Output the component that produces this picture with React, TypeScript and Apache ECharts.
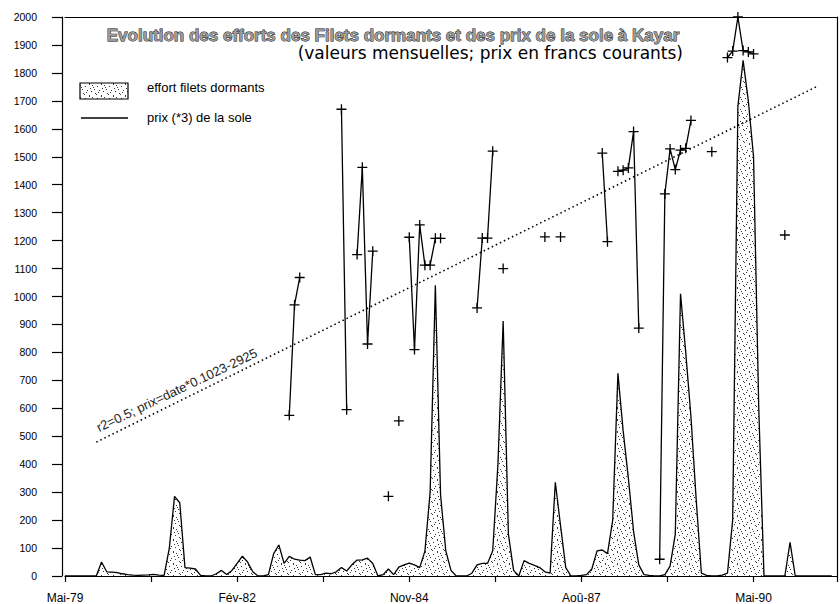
import React, { useEffect, useRef } from 'react';
import * as echarts from 'echarts';

// x axis: month index from Mai-79 (0) ; tick every 16.5 months, label every 33
const xTickLabels = ['Mai-79', '', 'Fév-82', '', 'Nov-84', '', 'Aoû-87', '', 'Mai-90'];
const monthCount = 148;

// effort filets dormants (monthly values, m0 = Mai-79)
const effort = [
  0, 0, 0, 0, 0, 0, 0, 50, 15, 14, 12, 8,
  5, 3, 2, 3, 4, 6, 3, 2, 100, 285, 262, 30,
  28, 25, 2, 0, 0, 8, 20, 5, 20, 45, 71, 50,
  15, 0, 0, 5, 80, 111, 45, 70, 60, 57, 55, 68,
  5, 5, 10, 8, 15, 30, 18, 40, 57, 58, 64, 45,
  0, 5, 25, 5, 32, 40, 46, 40, 30, 89, 300, 1040,
  290, 90, 20, 0, 0, 0, 10, 40, 45, 45, 90, 400,
  912, 150, 20, 0, 55, 45, 38, 30, 15, 10, 335, 180,
  30, 0, 0, 2, 5, 25, 90, 93, 80, 200, 725, 520,
  350, 160, 40, 5, 2, 0, 0, 5, 35, 150, 1010, 800,
  570, 275, 10, 2, 0, 0, 3, 10, 200, 1680, 1845, 1700,
  1500, 600, 0, 0, 0, 0, 0, 120, 0, 0, 0, 0,
  0, 0, 0, 0,
];

// prix (*3) de la sole : months with a value, and the values
const priceMonths = [
  43, 44, 45, 53, 54, 56, 57, 58, 59, 62, 64,
  66, 67, 68, 69, 70, 71, 72, 79, 80, 81, 82, 84,
  92, 95, 103, 104, 106, 107, 108, 109, 110,
  114, 115, 116, 117, 118, 119, 120, 124,
  127, 128, 129, 130, 131, 132, 138,
];
const priceValues = [
  575, 970, 1068, 1670, 595, 1150, 1462, 830, 1162, 285, 555,
  1212, 810, 1256, 1112, 1112, 1208, 1208, 959, 1209, 1209, 1520, 1100,
  1213, 1213, 1513, 1196, 1448, 1452, 1460, 1590, 887,
  60, 1367, 1528, 1454, 1524, 1530, 1630, 1518,
  1855, 1878, 2000, 1880, 1875, 1868, 1220,
];

// regression line end points
const trendMonths = [6, 144];
const trendValues = [479, 1750];

const FONT = '"Liberation Sans", Arial, sans-serif';

export default function App() {
  const ref = useRef<HTMLDivElement>(null);

  useEffect(() => {
    const el = ref.current;
    if (!el) return;
    const chart = echarts.init(el, undefined, { renderer: 'svg' });

    // stipple texture
    const cv = document.createElement('canvas');
    cv.width = 12;
    cv.height = 12;
    const ctx = cv.getContext('2d');
    if (ctx) {
      ctx.fillStyle = '#ffffff';
      ctx.fillRect(0, 0, 12, 12);
      ctx.fillStyle = '#3a3a3a';
      const dots = [
        [1, 2], [5, 0], [9, 3], [3, 6], [7, 7], [11, 9], [0, 10], [5, 11], [8, 1], [2, 8], [10, 5], [6, 4],
      ];
      dots.forEach(([x, y]) => ctx.fillRect(x, y, 1, 1));
    }
    const pattern: any = { image: cv, repeat: 'repeat' };

    const effortData = effort.map((v, i) => [i, v]);
    const priceData = Array.from({ length: monthCount }, (_, i) => {
      const k = priceMonths.indexOf(i);
      return k >= 0 ? [i, priceValues[k]] : [i, '-'];
    });
    const trendData = trendMonths.map((m, i) => [m, trendValues[i]]);

    const axisLine = { show: true, onZero: false, lineStyle: { color: '#000', width: 1.2 } };

    chart.setOption({
      animation: false,
      backgroundColor: '#fff',
      grid: { left: 65, right: 1, top: 17, bottom: 27, containLabel: false },
      xAxis: [
        {
          type: 'value',
          min: 0,
          max: monthCount,
          interval: 16.5,
          position: 'bottom',
          axisLine,
          axisTick: { show: true, length: 6, lineStyle: { color: '#000', width: 1.2 } },
          axisLabel: {
            margin: 16,
            fontSize: 12,
            color: '#000',
            fontFamily: FONT,
            formatter: (v: number) => xTickLabels[Math.round(v / 16.5)] ?? '',
          },
          splitLine: { show: false },
        },
        {
          type: 'value',
          min: 0,
          max: monthCount,
          position: 'top',
          axisLine,
          axisTick: { show: false },
          axisLabel: { show: false },
          splitLine: { show: false },
        },
      ],
      yAxis: [
        {
          type: 'value',
          min: 0,
          max: 2000,
          interval: 100,
          offset: 3,
          axisLine,
          axisTick: { show: true, length: 10, lineStyle: { color: '#000', width: 1.2 } },
          axisLabel: {
            margin: 25,
            fontSize: 10.5,
            color: '#000',
            fontFamily: FONT,
            formatter: (v: number) => String(v),
          },
          splitLine: { show: false },
        },
        {
          type: 'value',
          min: 0,
          max: 2000,
          position: 'right',
          axisLine,
          axisTick: { show: false },
          axisLabel: { show: false },
          splitLine: { show: false },
        },
      ],
      series: [
        {
          name: 'effort filets dormants',
          type: 'line',
          data: effortData,
          showSymbol: false,
          silent: true,
          lineStyle: { color: '#000', width: 1.3 },
          areaStyle: { color: pattern, opacity: 1 },
          z: 2,
        },
        {
          name: 'prix (*3) de la sole',
          type: 'line',
          data: priceData,
          connectNulls: false,
          showSymbol: true,
          showAllSymbol: true,
          symbol: 'path://M0,5L10,5M5,0L5,10',
          symbolSize: 10,
          silent: true,
          itemStyle: { color: 'rgba(0,0,0,0)', borderColor: '#000', borderWidth: 1.3 },
          lineStyle: { color: '#000', width: 1.3 },
          z: 4,
        },
        {
          name: 'tendance',
          type: 'line',
          data: trendData,
          showSymbol: false,
          silent: true,
          lineStyle: { color: '#000', width: 1.6, type: [1.5, 3] },
          z: 3,
        },
      ],
      graphic: [
        {
          type: 'text',
          x: 393,
          y: 35,
          style: {
            text: 'Evolution des efforts des Filets dormants et des prix de la sole à Kayar',
            fontSize: 17,
            fontWeight: 'bold',
            fontFamily: FONT,
            fill: '#9a9a9a',
            stroke: '#000',
            lineWidth: 0.8,
            textAlign: 'center',
            align: 'center',
            textVerticalAlign: 'middle',
            verticalAlign: 'middle',
          },
        },
        {
          type: 'text',
          x: 683,
          y: 53,
          style: {
            text: '(valeurs mensuelles; prix en francs courants)',
            fontSize: 17,
            fontFamily: '"DejaVu Sans", sans-serif',
            fill: '#000',
            textAlign: 'right',
            align: 'right',
            textVerticalAlign: 'middle',
            verticalAlign: 'middle',
          },
        },
        {
          type: 'rect',
          shape: { x: 80, y: 83, width: 48, height: 16 },
          style: { fill: pattern, stroke: '#000', lineWidth: 1.2 },
        },
        {
          type: 'text',
          x: 147,
          y: 87,
          style: {
            text: 'effort filets dormants',
            fontSize: 13,
            fontFamily: FONT,
            fill: '#000',
            textAlign: 'left',
            align: 'left',
            textVerticalAlign: 'middle',
            verticalAlign: 'middle',
          },
        },
        {
          type: 'line',
          shape: { x1: 81, y1: 118, x2: 128, y2: 118 },
          style: { stroke: '#000', lineWidth: 1.3 },
        },
        {
          type: 'text',
          x: 147,
          y: 117,
          style: {
            text: 'prix (*3) de la sole',
            fontSize: 13,
            fontFamily: FONT,
            fill: '#000',
            textAlign: 'left',
            align: 'left',
            textVerticalAlign: 'middle',
            verticalAlign: 'middle',
          },
        },
        {
          type: 'text',
          x: 100,
          y: 434,
          rotation: (25.5 * Math.PI) / 180,
          style: {
            text: 'r2=0.5; prix=date*0.1023-2925',
            fontSize: 13,
            fontFamily: FONT,
            fill: '#222',
            textAlign: 'left',
            align: 'left',
            textVerticalAlign: 'bottom',
            verticalAlign: 'bottom',
          },
        },
      ],
    });

    return () => {
      chart.dispose();
    };
  }, []);

  return (
    <div
      ref={ref}
      style={{ position: 'absolute', left: 0, top: 0, width: 840, height: 604, background: '#fff' }}
    />
  );
}
